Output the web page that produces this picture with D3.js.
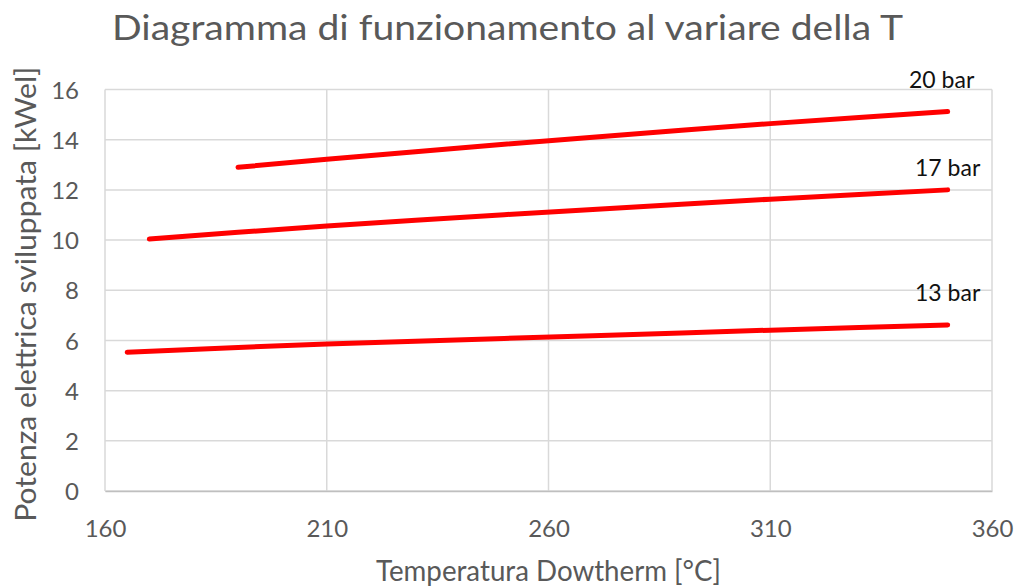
<!DOCTYPE html>
<html>
<head>
<meta charset="utf-8">
<script src="https://cdn.jsdelivr.net/npm/d3@7"></script>
<style>
  html, body { margin: 0; padding: 0; background: #fff; }
  svg { display: block; font-family: Lato, "Open Sans", sans-serif; }
</style>
</head>
<body>
<svg id="chart" width="1016" height="587"></svg>
<script>
// Operating diagram: electrical power vs Dowtherm temperature at three pressures
const title = "Diagramma di funzionamento al variare della T";
const xTitle = "Temperatura Dowtherm [°C]";
const yTitle = "Potenza elettrica sviluppata [kWel]";

const xTicks = [160, 210, 260, 310, 360];
const yTicks = [0, 2, 4, 6, 8, 10, 12, 14, 16];

const seriesNames = ["13 bar", "17 bar", "20 bar"];

const temp13 = [165, 190, 210, 230, 250, 270, 290, 310, 330, 350];
const power13 = [5.53, 5.72, 5.86, 5.97, 6.08, 6.19, 6.30, 6.41, 6.52, 6.62];

const temp17 = [170, 190, 210, 230, 250, 270, 290, 310, 330, 350];
const power17 = [10.04, 10.31, 10.56, 10.79, 11.01, 11.22, 11.43, 11.63, 11.82, 12.00];

const temp20 = [190, 210, 230, 250, 270, 290, 310, 330, 350];
const power20 = [12.90, 13.22, 13.52, 13.82, 14.10, 14.38, 14.64, 14.88, 15.12];

const series = [
  { name: seriesNames[0], t: temp13, p: power13 },
  { name: seriesNames[1], t: temp17, p: power17 },
  { name: seriesNames[2], t: temp20, p: power20 }
];

// label placement relative to the last point of each curve (px)
const labelOffset = { "13 bar": [0, -24], "17 bar": [0, -14], "20 bar": [-6, -24] };

const svg = d3.select("#chart");
const plot = { left: 105, right: 992, top: 89.5, bottom: 491 };

const x = d3.scaleLinear().domain([160, 360]).range([plot.left, plot.right]);
const y = d3.scaleLinear().domain([0, 16]).range([plot.bottom, plot.top]);

const grey = "#595959";

// gridlines
const grid = svg.append("g");
grid.selectAll("line.h").data(yTicks).join("line")
  .attr("x1", plot.left).attr("x2", plot.right)
  .attr("y1", d => y(d)).attr("y2", d => y(d))
  .attr("stroke", "#d9d9d9").attr("stroke-width", 1.5);
grid.selectAll("line.v").data(xTicks).join("line")
  .attr("y1", plot.top).attr("y2", plot.bottom)
  .attr("x1", d => x(d)).attr("x2", d => x(d))
  .attr("stroke", "#d9d9d9").attr("stroke-width", 1.5);

// axes (labels only, lines come from the grid)
const xAxis = svg.append("g")
  .attr("transform", `translate(0,${plot.bottom})`)
  .call(d3.axisBottom(x).tickValues(xTicks).tickSize(0).tickPadding(0));
xAxis.select(".domain").attr("stroke", "#bfbfbf").attr("stroke-width", 1.5);
xAxis.selectAll("text")
  .attr("y", 46).attr("dy", 0)
  .attr("fill", grey).style("font-size", "24px").style("font-family", "Lato");

const yAxis = svg.append("g")
  .attr("transform", `translate(${plot.left},0)`)
  .call(d3.axisLeft(y).tickValues(yTicks).tickSize(0).tickPadding(26));
yAxis.select(".domain").remove();
yAxis.selectAll("text")
  .attr("dy", "0.36em")
  .attr("fill", grey).style("font-size", "24px").style("font-family", "Lato");

// series lines
const line = d3.line().x(d => x(d[0])).y(d => y(d[1]));
svg.append("g").selectAll("path").data(series).join("path")
  .attr("d", s => line(s.t.map((t, i) => [t, s.p[i]])))
  .attr("fill", "none")
  .attr("stroke", "#ff0000")
  .attr("stroke-width", 5)
  .attr("stroke-linecap", "round")
  .attr("stroke-linejoin", "round");

// series labels near the line ends
svg.append("g").selectAll("text").data(series).join("text")
  .attr("x", s => x(s.t[s.t.length - 1]) + labelOffset[s.name][0])
  .attr("y", s => y(s.p[s.p.length - 1]) + labelOffset[s.name][1])
  .attr("text-anchor", "middle")
  .attr("fill", "#111")
  .style("font-size", "23px")
  .text(s => s.name);

// chart title
svg.append("text")
  .attr("x", 507.5).attr("y", 40)
  .attr("text-anchor", "middle")
  .attr("fill", grey)
  .style("font-size", "35px")
  .attr("textLength", 791).attr("lengthAdjust", "spacingAndGlyphs")
  .text(title);

// axis titles
svg.append("text")
  .attr("x", (plot.left + plot.right) / 2).attr("y", 581)
  .attr("text-anchor", "middle")
  .attr("fill", grey)
  .style("font-size", "28px")
  .attr("textLength", 345).attr("lengthAdjust", "spacingAndGlyphs")
  .text(xTitle);

svg.append("text")
  .attr("transform", `translate(36,${(plot.top + plot.bottom) / 2 + 4}) rotate(-90)`)
  .attr("text-anchor", "middle")
  .attr("fill", grey)
  .style("font-size", "28px")
  .attr("textLength", 455).attr("lengthAdjust", "spacingAndGlyphs")
  .text(yTitle);
</script>
</body>
</html>
